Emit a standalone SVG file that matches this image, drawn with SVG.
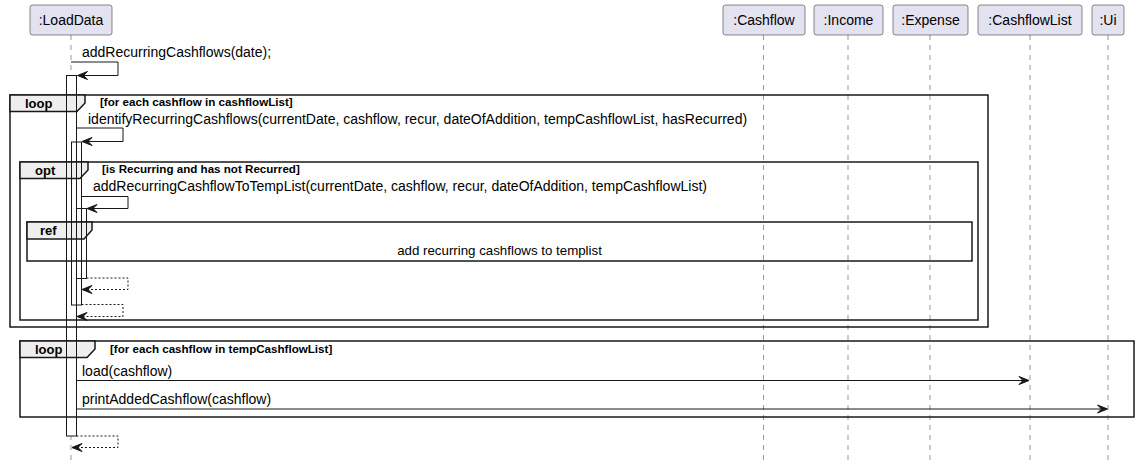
<svg xmlns="http://www.w3.org/2000/svg" width="1139" height="467" viewBox="0 0 1139 467">
<style>
  text { font-family: "Liberation Sans", Arial, sans-serif; fill: #000; }
  .pbox { fill: #E2E2F0; stroke: #181818; stroke-width: 0.5; }
  .pname { font-size: 14px; text-anchor: middle; }
  .life { stroke: #555; stroke-width: 0.6; stroke-dasharray: 5,5; fill: none; }
  .actfill { fill: #fff; stroke: none; }
  .act { fill: none; stroke: #181818; stroke-width: 1; }
  .frame { fill: none; stroke: #181818; stroke-width: 1.5; }
  .tab { fill: #EEEEEE; stroke: #181818; stroke-width: 1.5; }
  .ftitle { font-size: 13px; font-weight: bold; }
  .guard { font-size: 11.6px; font-weight: bold; }
  .msg { fill: none; stroke: #181818; stroke-width: 1; }
  .ret { fill: none; stroke: #181818; stroke-width: 1; stroke-dasharray: 2,2; }
  .head { fill: #181818; stroke: #181818; stroke-width: 1; }
  .mtext { font-size: 14px; }
  .reftext { font-size: 13.3px; }
</style>

<g id="lifelines">
  <line class="life" x1="71" y1="35" x2="71" y2="462"/>
  <line class="life" x1="763.5" y1="35" x2="763.5" y2="462"/>
  <line class="life" x1="848" y1="35" x2="848" y2="462"/>
  <line class="life" x1="930" y1="35" x2="930" y2="462"/>
  <line class="life" x1="1030" y1="35" x2="1030" y2="462"/>
  <line class="life" x1="1108" y1="35" x2="1108" y2="462"/>
</g>

<g id="participant-LoadData">
  <rect class="pbox" x="30" y="5" width="82" height="30" rx="2.5"/>
  <text class="pname" x="71" y="25">:LoadData</text>
</g>
<g id="participant-Cashflow">
  <rect class="pbox" x="723" y="5" width="82" height="30" rx="2.5"/>
  <text class="pname" x="764" y="25">:Cashflow</text>
</g>
<g id="participant-Income">
  <rect class="pbox" x="814" y="5" width="69" height="30" rx="2.5"/>
  <text class="pname" x="848.5" y="25">:Income</text>
</g>
<g id="participant-Expense">
  <rect class="pbox" x="893" y="5" width="75" height="30" rx="2.5"/>
  <text class="pname" x="930.5" y="25">:Expense</text>
</g>
<g id="participant-CashflowList">
  <rect class="pbox" x="978" y="5" width="104" height="30" rx="2.5"/>
  <text class="pname" x="1030" y="25">:CashflowList</text>
</g>
<g id="participant-Ui">
  <rect class="pbox" x="1092" y="5" width="32" height="30" rx="2.5"/>
  <text class="pname" x="1108" y="25">:Ui</text>
</g>

<g id="activation-fills">
  <rect class="actfill" x="66.5" y="75.5" width="10" height="360.5"/>
  <rect class="actfill" x="71.5" y="142" width="10" height="163"/>
  <rect class="actfill" x="76.5" y="208.5" width="10" height="70"/>
</g>

<g id="frame-loop1">
  <rect class="frame" x="10" y="95" width="978" height="232"/>
  <polygon class="tab" points="10,95 85,95 85,103 77,111.5 10,111.5"/>
  <text class="ftitle" x="25" y="108">loop</text>
  <text class="guard" x="100" y="106">[for each cashflow in cashflowList]</text>
</g>
<g id="frame-opt">
  <rect class="frame" x="20" y="162" width="958" height="158"/>
  <polygon class="tab" points="20,162 88,162 88,170 80,178.5 20,178.5"/>
  <text class="ftitle" x="35" y="175">opt</text>
  <text class="guard" x="102" y="173">[is Recurring and has not Recurred]</text>
</g>
<g id="frame-ref">
  <rect class="frame" x="27" y="222" width="945" height="39"/>
  <polygon class="tab" points="27,222 92,222 92,230 84,239 27,239"/>
  <text class="ftitle" x="40" y="235">ref</text>
  <text class="reftext" x="499.5" y="255" text-anchor="middle">add recurring cashflows to templist</text>
</g>
<g id="frame-loop2">
  <rect class="frame" x="20" y="341" width="1114" height="76"/>
  <polygon class="tab" points="20,341 95,341 95,349 87,357.5 20,357.5"/>
  <text class="ftitle" x="35" y="354">loop</text>
  <text class="guard" x="110" y="353">[for each cashflow in tempCashflowList]</text>
</g>

<g id="activations">
  <rect class="act" x="66.5" y="75.5" width="10" height="360.5"/>
  <rect class="act" x="71.5" y="142" width="10" height="163"/>
  <rect class="act" x="76.5" y="208.5" width="10" height="70"/>
</g>

<g id="connectors">
  <polyline class="msg" points="71,62 118,62 118,75.5 78,75.5"/>
  <polygon class="head" points="87.5,71.5 77.5,75.5 87.5,79.5 83.5,75.5"/>
  <text class="mtext" x="82" y="57">addRecurringCashflows(date);</text>

  <polyline class="msg" points="76.5,128 123,128 123,141.5 83,141.5"/>
  <polygon class="head" points="92,137.5 82,141.5 92,145.5 88,141.5"/>
  <text class="mtext" x="88" y="124">identifyRecurringCashflows(currentDate, cashflow, recur, dateOfAddition, tempCashflowList, hasRecurred)</text>

  <polyline class="msg" points="81.5,196.5 128,196.5 128,208.5 88,208.5"/>
  <polygon class="head" points="97,204.5 87,208.5 97,212.5 93,208.5"/>
  <text class="mtext" x="93" y="191">addRecurringCashflowToTempList(currentDate, cashflow, recur, dateOfAddition, tempCashflowList)</text>

  <polyline class="ret" points="86.5,278 128,278 128,289.5 83,289.5"/>
  <polygon class="head" points="92,285.5 82,289.5 92,293.5 88,289.5"/>

  <polyline class="ret" points="81.5,304.5 123,304.5 123,316.5 78,316.5"/>
  <polygon class="head" points="87,312.5 77,316.5 87,320.5 83,316.5"/>

  <line class="msg" x1="76.5" y1="380.5" x2="1028" y2="380.5"/>
  <polygon class="head" points="1019,376.5 1029,380.5 1019,384.5 1023,380.5"/>
  <text class="mtext" x="82" y="376">load(cashflow)</text>

  <line class="msg" x1="76.5" y1="409" x2="1106" y2="409"/>
  <polygon class="head" points="1097.5,405 1107.5,409 1097.5,413 1101.5,409"/>
  <text class="mtext" x="82" y="404">printAddedCashflow(cashflow)</text>

  <polyline class="ret" points="76.5,436 118,436 118,447.5 73,447.5"/>
  <polygon class="head" points="82,443.5 72,447.5 82,451.5 78,447.5"/>
</g>
</svg>
